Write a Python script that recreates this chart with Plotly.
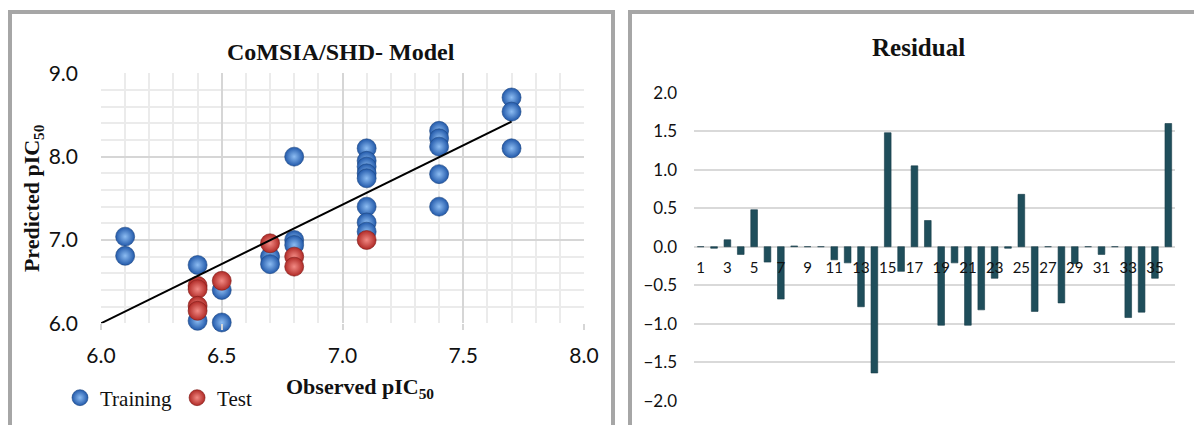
import plotly.graph_objects as go

# ---------------- data ----------------
train_x = [6.1, 6.1, 6.4, 6.4, 6.5, 6.5, 6.7, 6.7, 6.8, 6.8, 6.8,
           7.1, 7.1, 7.1, 7.1, 7.1, 7.1, 7.1, 7.1,
           7.4, 7.4, 7.4, 7.4, 7.4, 7.7, 7.7, 7.7]
train_y = [7.04, 6.81, 6.70, 6.03, 6.40, 6.01, 6.80, 6.71, 8.00, 7.00, 6.94,
           8.10, 7.95, 7.88, 7.80, 7.74, 7.40, 7.21, 7.10,
           8.31, 8.22, 8.12, 7.79, 7.40, 8.71, 8.54, 8.10]
test_x = [6.4, 6.4, 6.4, 6.4, 6.5, 6.7, 6.8, 6.8, 7.1]
test_y = [6.45, 6.41, 6.21, 6.15, 6.51, 6.96, 6.80, 6.68, 7.00]
trend_x = [6.0, 7.7]
trend_y = [6.0, 8.42]

left_xticks = [6.0, 6.5, 7.0, 7.5, 8.0]
left_yticks = [6.0, 7.0, 8.0, 9.0]

residual_ids = list(range(1, 37))
residuals = [0.0, -0.02, 0.09, -0.10, 0.48, -0.20, -0.68, 0.01, 0.0, 0.0,
             -0.17, -0.21, -0.78, -1.64, 1.48, -0.32, 1.05, 0.34, -1.02, -0.21,
             -1.02, -0.82, -0.41, -0.02, 0.68, -0.84, 0.0, -0.73, -0.22, 0.0,
             -0.10, 0.0, -0.92, -0.85, -0.41, 1.60]
residual_tickvals = list(range(1, 36, 2))
residual_ticktext = [str(v) for v in residual_tickvals]

W, H = 1194, 425
SERIF = "Liberation Serif"
SANS = "Lato"

fig = go.Figure()

fig.add_trace(go.Scatter(
    x=train_x, y=train_y, mode="markers", name="Training",
    marker=dict(size=19, color="#2259AA",
                gradient=dict(type="radial", color="#8CBCF2"),
                line=dict(width=0.6, color="#1C4682")),
    cliponaxis=False, xaxis="x", yaxis="y"))
fig.add_trace(go.Scatter(
    x=test_x, y=test_y, mode="markers", name="Test",
    marker=dict(size=19, color="#B02A26",
                gradient=dict(type="radial", color="#F28A84"),
                line=dict(width=0.6, color="#7E1B18")),
    cliponaxis=False, xaxis="x", yaxis="y"))
fig.add_trace(go.Scatter(
    x=trend_x, y=trend_y, mode="lines", showlegend=False,
    line=dict(color="black", width=2), xaxis="x", yaxis="y", hoverinfo="skip"))

fig.add_trace(go.Bar(
    x=residual_ids, y=residuals, showlegend=False,
    marker=dict(color="#1F4E5B", line=dict(width=0.6, color="#163B47")),
    width=0.5, xaxis="x2", yaxis="y2"))

fig.update_layout(
    template="none",
    width=W, height=H,
    margin=dict(l=0, r=0, t=0, b=0, pad=0),
    paper_bgcolor="white", plot_bgcolor="white",
    showlegend=True,
    legend=dict(orientation="h", x=60 / W, y=1 - 398 / H, xanchor="left", yanchor="middle",
                font=dict(family=SERIF, size=21, color="#111"),
                bgcolor="rgba(0,0,0,0)", itemwidth=30, tracegroupgap=0),
    xaxis=dict(domain=[101 / W, 584 / W], range=[6.0, 8.0], automargin=False,
               tickvals=left_xticks, ticktext=[f"{v:.1f}" for v in left_xticks],
               showgrid=True, gridcolor="#D6D6D6", gridwidth=2,
               minor=dict(dtick=0.1, showgrid=True, gridcolor="#EBEBEB", gridwidth=1.5),
               zeroline=False, showline=False,
               ticks="outside", ticklen=6, tickcolor="#D6D6D6", tickwidth=2,
               ticklabelstandoff=7,
               tickfont=dict(family=SANS, size=21, color="#111"),
               anchor="y", fixedrange=True),
    yaxis=dict(domain=[1 - 323.3 / H, 1 - 73.3 / H], range=[6.0, 9.0], automargin=False,
               tickvals=left_yticks, ticktext=[f"{v:.1f}" for v in left_yticks],
               showgrid=True, gridcolor="#D6D6D6", gridwidth=2,
               minor=dict(dtick=0.2, showgrid=True, gridcolor="#EBEBEB", gridwidth=1.5),
               zeroline=False, showline=False, ticks="",
               ticklabelstandoff=22,
               tickfont=dict(family=SANS, size=21, color="#111"),
               title=dict(text="<b>Predicted pIC<sub>50</sub></b>",
                          font=dict(family=SERIF, size=22, color="#111"), standoff=2),
               anchor="x", fixedrange=True),
    xaxis2=dict(domain=[694 / W, 1175 / W], range=[0.5, 36.5], automargin=False,
                tickvals=residual_tickvals, ticktext=residual_ticktext,
                showgrid=False, zeroline=False, showline=False, ticks="",
                anchor="free", position=1 - 246.7 / H,
                ticklabelstandoff=10,
                tickfont=dict(family=SANS, size=15, color="#111"), fixedrange=True),
    yaxis2=dict(domain=[1 - 400.7 / H, 1 - 92.7 / H], range=[-2.0, 2.0], automargin=False,
                dtick=0.5, tickformat=".1f",
                showgrid=True, gridcolor="#D9D9D9", gridwidth=2,
                zeroline=False, showline=False, ticks="",
                ticklabelstandoff=16,
                tickfont=dict(family=SANS, size=17, color="#111"),
                anchor="x2", fixedrange=True),
    annotations=[
        dict(text="<b>CoMSIA/SHD- Model</b>", x=341 / W, y=1 - 52 / H, xref="paper", yref="paper",
             showarrow=False, xanchor="center", yanchor="middle",
             font=dict(family=SERIF, size=24, color="#111")),
        dict(text="<b>Observed pIC<sub>50</sub></b>", x=360 / W, y=1 - 388 / H,
             xref="paper", yref="paper", showarrow=False, xanchor="center", yanchor="middle",
             font=dict(family=SERIF, size=22, color="#111")),
        dict(text="<b>Residual</b>", x=918 / W, y=1 - 47 / H, xref="paper", yref="paper",
             showarrow=False, xanchor="center", yanchor="middle",
             font=dict(family=SERIF, size=25, color="#111")),
    ],
    shapes=[
        dict(type="rect", xref="paper", yref="paper", x0=10 / W, x1=613 / W,
             y0=-0.1, y1=1 - 12 / H, line=dict(color="#A6A6A6", width=4), layer="below"),
        dict(type="rect", xref="paper", yref="paper", x0=630 / W, x1=1.05,
             y0=-0.1, y1=1 - 12 / H, line=dict(color="#A6A6A6", width=4), layer="below"),
    ],
)

fig.write_html("out.html",
               config={"displayModeBar": False},
               post_script="document.body.style.margin='0';document.body.style.overflow='hidden';")
